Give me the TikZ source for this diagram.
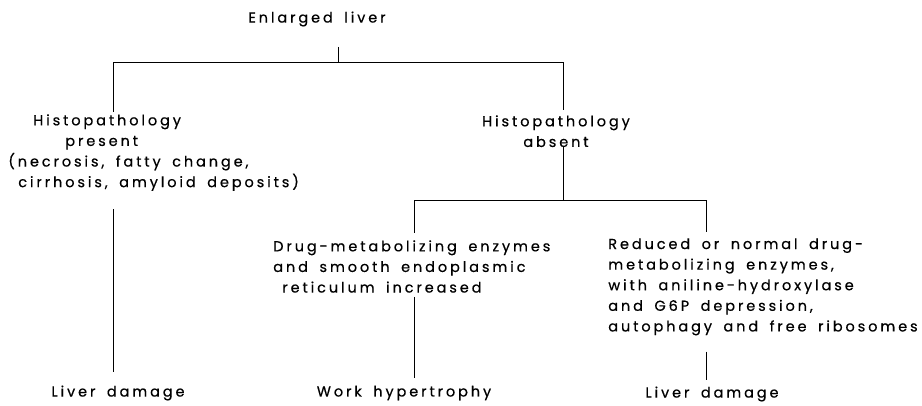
\documentclass[tikz,border=0pt]{standalone}
\usepackage{fontspec}
\setmainfont{Poppins}[LetterSpace=20, WordSpace=1.7, FakeBold=0.5]
\usetikzlibrary{positioning}

\begin{document}
\begin{tikzpicture}[-, x=1pt, y=-1pt, semithick, node distance=20pt]
  \tikzstyle{every node}=[inner sep=0pt, font=\fontsize{14.5}{20.6}\selectfont]
  \useasboundingbox (0,0) rectangle (922,405);
  % nodes
  \node (root)    at (317,19)                       {Enlarged liver};
  \node (present) [align=left, anchor=north west] at (8,114)
        {\hspace*{25pt}Histopathology\\\hspace*{57pt}present\\(necrosis, fatty change,\\\hspace*{10pt}cirrhosis, amyloid deposits)};
  \node (absent)  [align=center, anchor=north] at (556,115) {Histopathology\\absent};
  \node (drug)    [align=left, anchor=north west] at (273,240)
        {Drug-metabolizing enzymes\\and smooth endoplasmic\\\hspace*{9pt}reticulum increased};
  \node (reduced) [align=left, anchor=north west] at (608,238)
        {Reduced or normal drug-\\metabolizing enzymes,\\with aniline-hydroxylase\\and G6P depression,\\autophagy and free ribosomes};
  \node (damleft)  at (118,393) {Liver damage};
  \node (work)     at (404,393) {Work hypertrophy};
  \node (damright) at (712,394) {Liver damage};
  % junctions
  \coordinate (top)   at (338,62);
  \coordinate (left)  at (113,62);
  \coordinate (right) at (563,62);
  \coordinate (mid)   at (563,200);
  \coordinate (dleft) at (414,200);
  \coordinate (dright) at (706,200);
  % connectors
  \draw [shorten <=20pt] (root.south -| top) -- (top);
  \draw (left) -- (right);
  \draw [shorten >=2pt] (left) -- (present.north -| left);
  \draw [shorten >=5pt] (right) -- (absent.north -| right);
  \draw (absent.south -| mid) -- (mid);
  \draw (dleft) -- (dright);
  \draw [shorten >=7pt] (dleft) -- (drug.north -| dleft);
  \draw [shorten >=6pt] (dright) -- (reduced.north -| dright);
  \draw [shorten <=4pt, shorten >=7pt] (drug.south -| dleft) -- (work.north -| dleft);
  \draw [shorten <=18pt, shorten >=13pt] (present.south -| left) -- (damleft.north -| left);
  \draw [shorten <=16pt, shorten >=6pt] (reduced.south -| dright) -- (damright.north -| dright);
\end{tikzpicture}
\end{document}
